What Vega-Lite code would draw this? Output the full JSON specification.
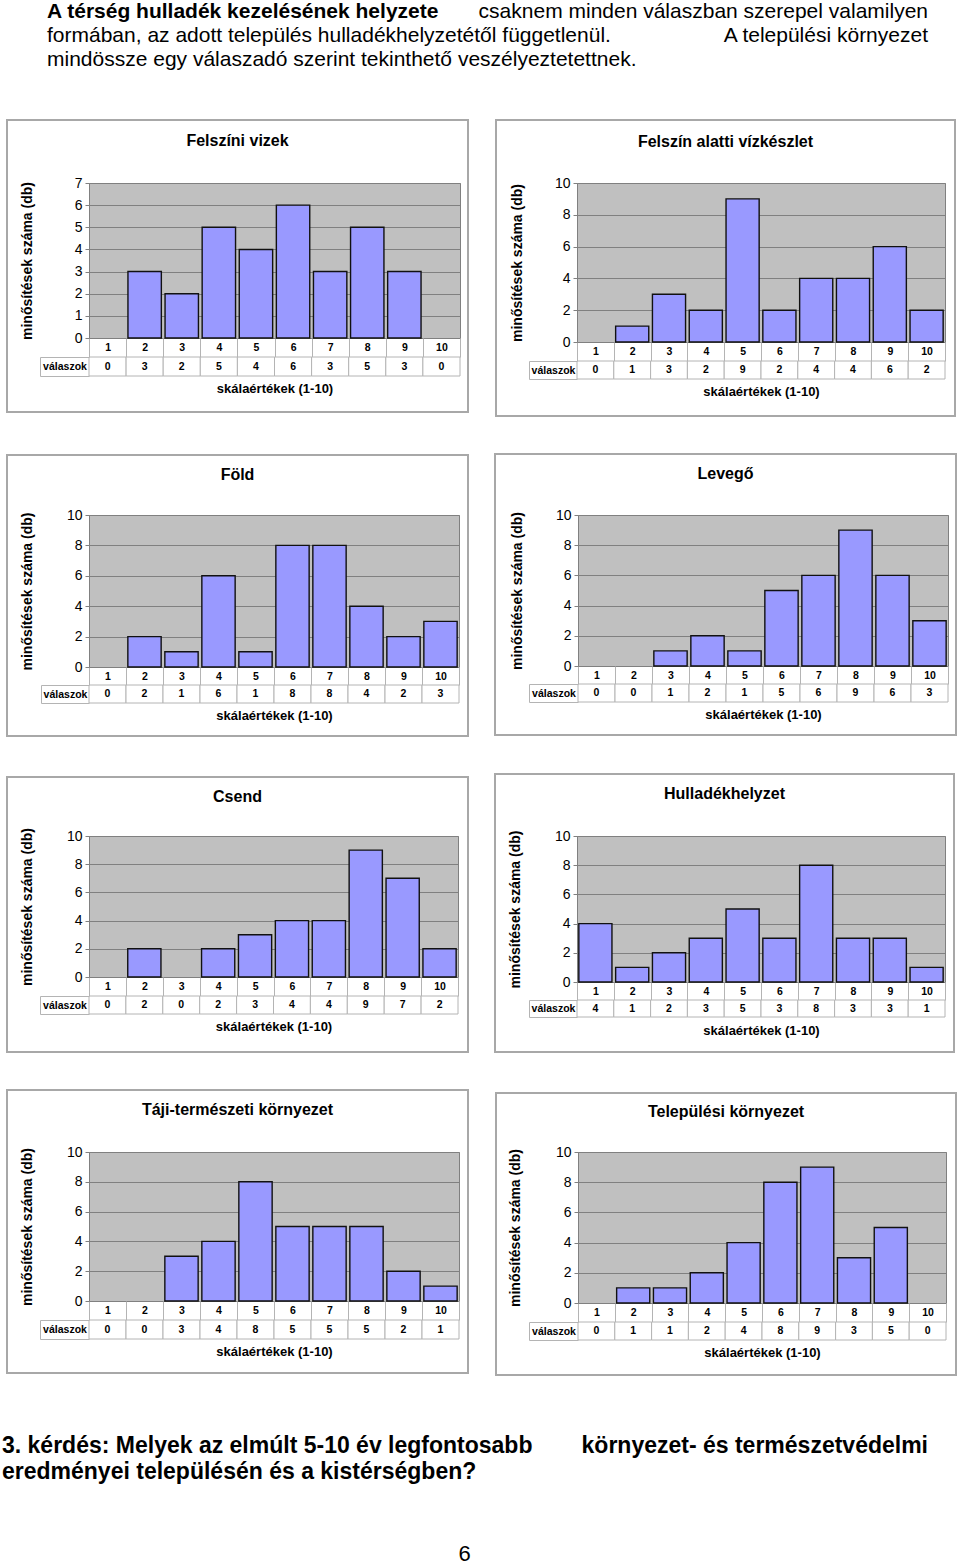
{
  "$schema": "https://vega.github.io/schema/vega-lite/v6.json",
  "background": "white",
  "padding": {"left": 2, "top": 0, "right": 0, "bottom": 0},
  "spacing": 34,
  "datasets": {
    "felszini": [{"skala": 1, "valaszok": 0}, {"skala": 2, "valaszok": 3}, {"skala": 3, "valaszok": 2}, {"skala": 4, "valaszok": 5}, {"skala": 5, "valaszok": 4}, {"skala": 6, "valaszok": 6}, {"skala": 7, "valaszok": 3}, {"skala": 8, "valaszok": 5}, {"skala": 9, "valaszok": 3}, {"skala": 10, "valaszok": 0}],
    "felszin_alatti": [{"skala": 1, "valaszok": 0}, {"skala": 2, "valaszok": 1}, {"skala": 3, "valaszok": 3}, {"skala": 4, "valaszok": 2}, {"skala": 5, "valaszok": 9}, {"skala": 6, "valaszok": 2}, {"skala": 7, "valaszok": 4}, {"skala": 8, "valaszok": 4}, {"skala": 9, "valaszok": 6}, {"skala": 10, "valaszok": 2}],
    "fold": [{"skala": 1, "valaszok": 0}, {"skala": 2, "valaszok": 2}, {"skala": 3, "valaszok": 1}, {"skala": 4, "valaszok": 6}, {"skala": 5, "valaszok": 1}, {"skala": 6, "valaszok": 8}, {"skala": 7, "valaszok": 8}, {"skala": 8, "valaszok": 4}, {"skala": 9, "valaszok": 2}, {"skala": 10, "valaszok": 3}],
    "levego": [{"skala": 1, "valaszok": 0}, {"skala": 2, "valaszok": 0}, {"skala": 3, "valaszok": 1}, {"skala": 4, "valaszok": 2}, {"skala": 5, "valaszok": 1}, {"skala": 6, "valaszok": 5}, {"skala": 7, "valaszok": 6}, {"skala": 8, "valaszok": 9}, {"skala": 9, "valaszok": 6}, {"skala": 10, "valaszok": 3}],
    "csend": [{"skala": 1, "valaszok": 0}, {"skala": 2, "valaszok": 2}, {"skala": 3, "valaszok": 0}, {"skala": 4, "valaszok": 2}, {"skala": 5, "valaszok": 3}, {"skala": 6, "valaszok": 4}, {"skala": 7, "valaszok": 4}, {"skala": 8, "valaszok": 9}, {"skala": 9, "valaszok": 7}, {"skala": 10, "valaszok": 2}],
    "hulladek": [{"skala": 1, "valaszok": 4}, {"skala": 2, "valaszok": 1}, {"skala": 3, "valaszok": 2}, {"skala": 4, "valaszok": 3}, {"skala": 5, "valaszok": 5}, {"skala": 6, "valaszok": 3}, {"skala": 7, "valaszok": 8}, {"skala": 8, "valaszok": 3}, {"skala": 9, "valaszok": 3}, {"skala": 10, "valaszok": 1}],
    "taji": [{"skala": 1, "valaszok": 0}, {"skala": 2, "valaszok": 0}, {"skala": 3, "valaszok": 3}, {"skala": 4, "valaszok": 4}, {"skala": 5, "valaszok": 8}, {"skala": 6, "valaszok": 5}, {"skala": 7, "valaszok": 5}, {"skala": 8, "valaszok": 5}, {"skala": 9, "valaszok": 2}, {"skala": 10, "valaszok": 1}],
    "telepulesi": [{"skala": 1, "valaszok": 0}, {"skala": 2, "valaszok": 1}, {"skala": 3, "valaszok": 1}, {"skala": 4, "valaszok": 2}, {"skala": 5, "valaszok": 4}, {"skala": 6, "valaszok": 8}, {"skala": 7, "valaszok": 9}, {"skala": 8, "valaszok": 3}, {"skala": 9, "valaszok": 5}, {"skala": 10, "valaszok": 0}]
  },
  "vconcat": [
    {
      "width": 839, "height": 84,
      "layer": [
        {
          "data": {"values": [{"line": 1, "text": "A térség hulladék kezelésének helyzete"}]},
          "mark": {"type": "text", "align": "left", "baseline": "middle", "dx": -42, "fontSize": 21, "fontWeight": "bold"},
          "encoding": {"x": {"value": 0}, "y": {"field": "line", "type": "ordinal", "scale": {"type": "band", "domain": [1, 2, 3], "paddingInner": 0, "paddingOuter": 0.25, "align": 0}, "axis": null}, "text": {"field": "text"}}
        },
        {
          "data": {"values": [{"line": 1, "text": "csaknem minden válaszban szerepel valamilyen"}, {"line": 2, "text": "A települési környezet"}]},
          "mark": {"type": "text", "align": "right", "baseline": "middle", "fontSize": 21},
          "encoding": {"x": {"value": "width"}, "y": {"field": "line", "type": "ordinal", "scale": {"type": "band", "domain": [1, 2, 3], "paddingInner": 0, "paddingOuter": 0.25, "align": 0}, "axis": null}, "text": {"field": "text"}}
        },
        {
          "data": {"values": [{"line": 2, "text": "formában, az adott település hulladékhelyzetétől függetlenül."}, {"line": 3, "text": "mindössze egy válaszadó szerint tekinthető veszélyeztetettnek."}]},
          "mark": {"type": "text", "align": "left", "baseline": "middle", "dx": -42, "fontSize": 21},
          "encoding": {"x": {"value": 0}, "y": {"field": "line", "type": "ordinal", "scale": {"type": "band", "domain": [1, 2, 3], "paddingInner": 0, "paddingOuter": 0.25, "align": 0}, "axis": null}, "text": {"field": "text"}}
        }
      ]
    },
    {
      "spacing": 24,
      "hconcat": [
        {
          "spacing": 19, "bounds": "flush",
          "vconcat": [
            {
              "width": 371, "height": 155,
              "view": {"fill": "#c0c0c0", "stroke": "#808080"},
              "title": {"text": "Felszíni vizek", "offset": -30},
              "data": {"name": "felszini"},
              "layer": [
                {"data": {"values": [{}]}, "mark": {"type": "rect", "fill": "white", "fillOpacity": 0, "stroke": "#a8a8a8", "strokeWidth": 2, "xOffset": -82, "x2Offset": 8, "yOffset": -63, "y2Offset": 74}, "encoding": {"x": {"value": 0}, "x2": {"value": "width"}, "y": {"value": 0}, "y2": {"value": "height"}}},
                {"transform": [{"filter": "datum.valaszok > 0"}], "mark": {"type": "bar", "fill": "#9999ff", "stroke": "#111111", "strokeWidth": 1.4, "width": {"band": 0.9}},
                 "encoding": {
                   "x": {"field": "skala", "type": "ordinal", "scale": {"type": "band", "domain": [1, 2, 3, 4, 5, 6, 7, 8, 9, 10], "paddingInner": 0, "paddingOuter": 0}, "axis": {"title": null, "labelAngle": 0, "labelFontSize": 10.5, "labelFontWeight": "bold", "labelBaseline": "middle", "labelPadding": -9.5, "tickBand": "extent", "tickSize": 19, "tickColor": "#b4b4b4", "domain": false, "grid": false}},
                   "y": {"field": "valaszok", "type": "quantitative", "scale": {"domain": [0, 7], "nice": false}, "axis": {"values": [0, 1, 2, 3, 4, 5, 6, 7], "title": "minősítések száma (db)", "titlePadding": 30, "minExtent": 25, "maxExtent": 25}}
                 }}
              ]
            },
            {
              "width": 371, "height": 19,
              "data": {"name": "felszini"},
              "layer": [
                {"mark": {"type": "rect", "fill": "white", "stroke": "#b4b4b4", "strokeWidth": 1},
                 "encoding": {
                   "x": {"field": "skala", "type": "ordinal", "scale": {"type": "band", "domain": [1, 2, 3, 4, 5, 6, 7, 8, 9, 10], "paddingInner": 0, "paddingOuter": 0}, "axis": {"title": "skálaértékek (1-10)", "labels": false, "ticks": false, "domain": false, "grid": false, "titlePadding": 6}},
                   "y": {"datum": "válaszok", "type": "nominal", "scale": {"type": "band", "paddingInner": 0, "paddingOuter": 0}, "axis": {"title": null, "offset": 49, "domainColor": "#b4b4b4", "tickBand": "extent", "tickSize": -49, "tickColor": "#b4b4b4", "labelAlign": "center", "labelBaseline": "middle", "labelPadding": 24.5, "labelFontSize": 10.5, "labelFontWeight": "bold", "grid": false}}
                 }},
                {"mark": {"type": "text", "fontSize": 10.5, "fontWeight": "bold", "baseline": "middle"},
                 "encoding": {
                   "x": {"field": "skala", "type": "ordinal", "scale": {"type": "band", "domain": [1, 2, 3, 4, 5, 6, 7, 8, 9, 10], "paddingInner": 0, "paddingOuter": 0}, "axis": {"title": "skálaértékek (1-10)", "labels": false, "ticks": false, "domain": false, "grid": false, "titlePadding": 6}},
                   "y": {"datum": "válaszok", "type": "nominal", "scale": {"type": "band", "paddingInner": 0, "paddingOuter": 0}, "axis": {"title": null, "offset": 49, "domainColor": "#b4b4b4", "tickBand": "extent", "tickSize": -49, "tickColor": "#b4b4b4", "labelAlign": "center", "labelBaseline": "middle", "labelPadding": 24.5, "labelFontSize": 10.5, "labelFontWeight": "bold", "grid": false}},
                   "text": {"field": "valaszok"}
                 }}
              ]
            }
          ]
        },
        {
          "spacing": 19, "bounds": "flush",
          "vconcat": [
            {
              "width": 368, "height": 159,
              "view": {"fill": "#c0c0c0", "stroke": "#808080"},
              "title": {"text": "Felszín alatti vízkészlet", "offset": -31},
              "data": {"name": "felszin_alatti"},
              "layer": [
                {"data": {"values": [{}]}, "mark": {"type": "rect", "fill": "white", "fillOpacity": 0, "stroke": "#a8a8a8", "strokeWidth": 2, "xOffset": -81, "x2Offset": 10, "yOffset": -63, "y2Offset": 74}, "encoding": {"x": {"value": 0}, "x2": {"value": "width"}, "y": {"value": 0}, "y2": {"value": "height"}}},
                {"transform": [{"filter": "datum.valaszok > 0"}], "mark": {"type": "bar", "fill": "#9999ff", "stroke": "#111111", "strokeWidth": 1.4, "width": {"band": 0.9}},
                 "encoding": {
                   "x": {"field": "skala", "type": "ordinal", "scale": {"type": "band", "domain": [1, 2, 3, 4, 5, 6, 7, 8, 9, 10], "paddingInner": 0, "paddingOuter": 0}, "axis": {"title": null, "labelAngle": 0, "labelFontSize": 10.5, "labelFontWeight": "bold", "labelBaseline": "middle", "labelPadding": -9.5, "tickBand": "extent", "tickSize": 19, "tickColor": "#b4b4b4", "domain": false, "grid": false}},
                   "y": {"field": "valaszok", "type": "quantitative", "scale": {"domain": [0, 10], "nice": false}, "axis": {"values": [0, 2, 4, 6, 8, 10], "title": "minősítések száma (db)", "titlePadding": 28, "minExtent": 25, "maxExtent": 25}}
                 }}
              ]
            },
            {
              "width": 368, "height": 18,
              "data": {"name": "felszin_alatti"},
              "layer": [
                {"mark": {"type": "rect", "fill": "white", "stroke": "#b4b4b4", "strokeWidth": 1},
                 "encoding": {
                   "x": {"field": "skala", "type": "ordinal", "scale": {"type": "band", "domain": [1, 2, 3, 4, 5, 6, 7, 8, 9, 10], "paddingInner": 0, "paddingOuter": 0}, "axis": {"title": "skálaértékek (1-10)", "labels": false, "ticks": false, "domain": false, "grid": false, "titlePadding": 6}},
                   "y": {"datum": "válaszok", "type": "nominal", "scale": {"type": "band", "paddingInner": 0, "paddingOuter": 0}, "axis": {"title": null, "offset": 48, "domainColor": "#b4b4b4", "tickBand": "extent", "tickSize": -48, "tickColor": "#b4b4b4", "labelAlign": "center", "labelBaseline": "middle", "labelPadding": 24, "labelFontSize": 10.5, "labelFontWeight": "bold", "grid": false}}
                 }},
                {"mark": {"type": "text", "fontSize": 10.5, "fontWeight": "bold", "baseline": "middle"},
                 "encoding": {
                   "x": {"field": "skala", "type": "ordinal", "scale": {"type": "band", "domain": [1, 2, 3, 4, 5, 6, 7, 8, 9, 10], "paddingInner": 0, "paddingOuter": 0}, "axis": {"title": "skálaértékek (1-10)", "labels": false, "ticks": false, "domain": false, "grid": false, "titlePadding": 6}},
                   "y": {"datum": "válaszok", "type": "nominal", "scale": {"type": "band", "paddingInner": 0, "paddingOuter": 0}, "axis": {"title": null, "offset": 48, "domainColor": "#b4b4b4", "tickBand": "extent", "tickSize": -48, "tickColor": "#b4b4b4", "labelAlign": "center", "labelBaseline": "middle", "labelPadding": 24, "labelFontSize": 10.5, "labelFontWeight": "bold", "grid": false}},
                   "text": {"field": "valaszok"}
                 }}
              ]
            }
          ]
        }
      ]
    },
    {
      "spacing": 23,
      "hconcat": [
        {
          "spacing": 18, "bounds": "flush",
          "vconcat": [
            {
              "width": 370, "height": 152,
              "view": {"fill": "#c0c0c0", "stroke": "#808080"},
              "title": {"text": "Föld", "offset": -29},
              "data": {"name": "fold"},
              "layer": [
                {"data": {"values": [{}]}, "mark": {"type": "rect", "fill": "white", "fillOpacity": 0, "stroke": "#a8a8a8", "strokeWidth": 2, "xOffset": -82, "x2Offset": 9, "yOffset": -60, "y2Offset": 69}, "encoding": {"x": {"value": 0}, "x2": {"value": "width"}, "y": {"value": 0}, "y2": {"value": "height"}}},
                {"transform": [{"filter": "datum.valaszok > 0"}], "mark": {"type": "bar", "fill": "#9999ff", "stroke": "#111111", "strokeWidth": 1.4, "width": {"band": 0.9}},
                 "encoding": {
                   "x": {"field": "skala", "type": "ordinal", "scale": {"type": "band", "domain": [1, 2, 3, 4, 5, 6, 7, 8, 9, 10], "paddingInner": 0, "paddingOuter": 0}, "axis": {"title": null, "labelAngle": 0, "labelFontSize": 10.5, "labelFontWeight": "bold", "labelBaseline": "middle", "labelPadding": -9, "tickBand": "extent", "tickSize": 18, "tickColor": "#b4b4b4", "domain": false, "grid": false}},
                   "y": {"field": "valaszok", "type": "quantitative", "scale": {"domain": [0, 10], "nice": false}, "axis": {"values": [0, 2, 4, 6, 8, 10], "title": "minősítések száma (db)", "titlePadding": 30, "minExtent": 25, "maxExtent": 25}}
                 }}
              ]
            },
            {
              "width": 370, "height": 18,
              "data": {"name": "fold"},
              "layer": [
                {"mark": {"type": "rect", "fill": "white", "stroke": "#b4b4b4", "strokeWidth": 1},
                 "encoding": {
                   "x": {"field": "skala", "type": "ordinal", "scale": {"type": "band", "domain": [1, 2, 3, 4, 5, 6, 7, 8, 9, 10], "paddingInner": 0, "paddingOuter": 0}, "axis": {"title": "skálaértékek (1-10)", "labels": false, "ticks": false, "domain": false, "grid": false, "titlePadding": 6}},
                   "y": {"datum": "válaszok", "type": "nominal", "scale": {"type": "band", "paddingInner": 0, "paddingOuter": 0}, "axis": {"title": null, "offset": 48, "domainColor": "#b4b4b4", "tickBand": "extent", "tickSize": -48, "tickColor": "#b4b4b4", "labelAlign": "center", "labelBaseline": "middle", "labelPadding": 24, "labelFontSize": 10.5, "labelFontWeight": "bold", "grid": false}}
                 }},
                {"mark": {"type": "text", "fontSize": 10.5, "fontWeight": "bold", "baseline": "middle"},
                 "encoding": {
                   "x": {"field": "skala", "type": "ordinal", "scale": {"type": "band", "domain": [1, 2, 3, 4, 5, 6, 7, 8, 9, 10], "paddingInner": 0, "paddingOuter": 0}, "axis": {"title": "skálaértékek (1-10)", "labels": false, "ticks": false, "domain": false, "grid": false, "titlePadding": 6}},
                   "y": {"datum": "válaszok", "type": "nominal", "scale": {"type": "band", "paddingInner": 0, "paddingOuter": 0}, "axis": {"title": null, "offset": 48, "domainColor": "#b4b4b4", "tickBand": "extent", "tickSize": -48, "tickColor": "#b4b4b4", "labelAlign": "center", "labelBaseline": "middle", "labelPadding": 24, "labelFontSize": 10.5, "labelFontWeight": "bold", "grid": false}},
                   "text": {"field": "valaszok"}
                 }}
              ]
            }
          ]
        },
        {
          "spacing": 18, "bounds": "flush",
          "vconcat": [
            {
              "width": 370, "height": 151,
              "view": {"fill": "#c0c0c0", "stroke": "#808080"},
              "title": {"text": "Levegő", "offset": -29},
              "data": {"name": "levego"},
              "layer": [
                {"data": {"values": [{}]}, "mark": {"type": "rect", "fill": "white", "fillOpacity": 0, "stroke": "#a8a8a8", "strokeWidth": 2, "xOffset": -83, "x2Offset": 8, "yOffset": -61, "y2Offset": 69}, "encoding": {"x": {"value": 0}, "x2": {"value": "width"}, "y": {"value": 0}, "y2": {"value": "height"}}},
                {"transform": [{"filter": "datum.valaszok > 0"}], "mark": {"type": "bar", "fill": "#9999ff", "stroke": "#111111", "strokeWidth": 1.4, "width": {"band": 0.9}},
                 "encoding": {
                   "x": {"field": "skala", "type": "ordinal", "scale": {"type": "band", "domain": [1, 2, 3, 4, 5, 6, 7, 8, 9, 10], "paddingInner": 0, "paddingOuter": 0}, "axis": {"title": null, "labelAngle": 0, "labelFontSize": 10.5, "labelFontWeight": "bold", "labelBaseline": "middle", "labelPadding": -9, "tickBand": "extent", "tickSize": 18, "tickColor": "#b4b4b4", "domain": false, "grid": false}},
                   "y": {"field": "valaszok", "type": "quantitative", "scale": {"domain": [0, 10], "nice": false}, "axis": {"values": [0, 2, 4, 6, 8, 10], "title": "minősítések száma (db)", "titlePadding": 29, "minExtent": 25, "maxExtent": 25}}
                 }}
              ]
            },
            {
              "width": 370, "height": 18,
              "data": {"name": "levego"},
              "layer": [
                {"mark": {"type": "rect", "fill": "white", "stroke": "#b4b4b4", "strokeWidth": 1},
                 "encoding": {
                   "x": {"field": "skala", "type": "ordinal", "scale": {"type": "band", "domain": [1, 2, 3, 4, 5, 6, 7, 8, 9, 10], "paddingInner": 0, "paddingOuter": 0}, "axis": {"title": "skálaértékek (1-10)", "labels": false, "ticks": false, "domain": false, "grid": false, "titlePadding": 6}},
                   "y": {"datum": "válaszok", "type": "nominal", "scale": {"type": "band", "paddingInner": 0, "paddingOuter": 0}, "axis": {"title": null, "offset": 49, "domainColor": "#b4b4b4", "tickBand": "extent", "tickSize": -49, "tickColor": "#b4b4b4", "labelAlign": "center", "labelBaseline": "middle", "labelPadding": 24.5, "labelFontSize": 10.5, "labelFontWeight": "bold", "grid": false}}
                 }},
                {"mark": {"type": "text", "fontSize": 10.5, "fontWeight": "bold", "baseline": "middle"},
                 "encoding": {
                   "x": {"field": "skala", "type": "ordinal", "scale": {"type": "band", "domain": [1, 2, 3, 4, 5, 6, 7, 8, 9, 10], "paddingInner": 0, "paddingOuter": 0}, "axis": {"title": "skálaértékek (1-10)", "labels": false, "ticks": false, "domain": false, "grid": false, "titlePadding": 6}},
                   "y": {"datum": "válaszok", "type": "nominal", "scale": {"type": "band", "paddingInner": 0, "paddingOuter": 0}, "axis": {"title": null, "offset": 49, "domainColor": "#b4b4b4", "tickBand": "extent", "tickSize": -49, "tickColor": "#b4b4b4", "labelAlign": "center", "labelBaseline": "middle", "labelPadding": 24.5, "labelFontSize": 10.5, "labelFontWeight": "bold", "grid": false}},
                   "text": {"field": "valaszok"}
                 }}
              ]
            }
          ]
        }
      ]
    },
    {
      "spacing": 23,
      "hconcat": [
        {
          "spacing": 19, "bounds": "flush",
          "vconcat": [
            {
              "width": 369, "height": 141,
              "view": {"fill": "#c0c0c0", "stroke": "#808080"},
              "title": {"text": "Csend", "offset": -29},
              "data": {"name": "csend"},
              "layer": [
                {"data": {"values": [{}]}, "mark": {"type": "rect", "fill": "white", "fillOpacity": 0, "stroke": "#a8a8a8", "strokeWidth": 2, "xOffset": -82, "x2Offset": 10, "yOffset": -59, "y2Offset": 75}, "encoding": {"x": {"value": 0}, "x2": {"value": "width"}, "y": {"value": 0}, "y2": {"value": "height"}}},
                {"transform": [{"filter": "datum.valaszok > 0"}], "mark": {"type": "bar", "fill": "#9999ff", "stroke": "#111111", "strokeWidth": 1.4, "width": {"band": 0.9}},
                 "encoding": {
                   "x": {"field": "skala", "type": "ordinal", "scale": {"type": "band", "domain": [1, 2, 3, 4, 5, 6, 7, 8, 9, 10], "paddingInner": 0, "paddingOuter": 0}, "axis": {"title": null, "labelAngle": 0, "labelFontSize": 10.5, "labelFontWeight": "bold", "labelBaseline": "middle", "labelPadding": -9.5, "tickBand": "extent", "tickSize": 19, "tickColor": "#b4b4b4", "domain": false, "grid": false}},
                   "y": {"field": "valaszok", "type": "quantitative", "scale": {"domain": [0, 10], "nice": false}, "axis": {"values": [0, 2, 4, 6, 8, 10], "title": "minősítések száma (db)", "titlePadding": 30, "minExtent": 25, "maxExtent": 25}}
                 }}
              ]
            },
            {
              "width": 369, "height": 18,
              "data": {"name": "csend"},
              "layer": [
                {"mark": {"type": "rect", "fill": "white", "stroke": "#b4b4b4", "strokeWidth": 1},
                 "encoding": {
                   "x": {"field": "skala", "type": "ordinal", "scale": {"type": "band", "domain": [1, 2, 3, 4, 5, 6, 7, 8, 9, 10], "paddingInner": 0, "paddingOuter": 0}, "axis": {"title": "skálaértékek (1-10)", "labels": false, "ticks": false, "domain": false, "grid": false, "titlePadding": 6}},
                   "y": {"datum": "válaszok", "type": "nominal", "scale": {"type": "band", "paddingInner": 0, "paddingOuter": 0}, "axis": {"title": null, "offset": 49, "domainColor": "#b4b4b4", "tickBand": "extent", "tickSize": -49, "tickColor": "#b4b4b4", "labelAlign": "center", "labelBaseline": "middle", "labelPadding": 24.5, "labelFontSize": 10.5, "labelFontWeight": "bold", "grid": false}}
                 }},
                {"mark": {"type": "text", "fontSize": 10.5, "fontWeight": "bold", "baseline": "middle"},
                 "encoding": {
                   "x": {"field": "skala", "type": "ordinal", "scale": {"type": "band", "domain": [1, 2, 3, 4, 5, 6, 7, 8, 9, 10], "paddingInner": 0, "paddingOuter": 0}, "axis": {"title": "skálaértékek (1-10)", "labels": false, "ticks": false, "domain": false, "grid": false, "titlePadding": 6}},
                   "y": {"datum": "válaszok", "type": "nominal", "scale": {"type": "band", "paddingInner": 0, "paddingOuter": 0}, "axis": {"title": null, "offset": 49, "domainColor": "#b4b4b4", "tickBand": "extent", "tickSize": -49, "tickColor": "#b4b4b4", "labelAlign": "center", "labelBaseline": "middle", "labelPadding": 24.5, "labelFontSize": 10.5, "labelFontWeight": "bold", "grid": false}},
                   "text": {"field": "valaszok"}
                 }}
              ]
            }
          ]
        },
        {
          "spacing": 18, "bounds": "flush",
          "vconcat": [
            {
              "width": 368, "height": 146,
              "view": {"fill": "#c0c0c0", "stroke": "#808080"},
              "title": {"text": "Hulladékhelyzet", "offset": -29},
              "data": {"name": "hulladek"},
              "layer": [
                {"data": {"values": [{}]}, "mark": {"type": "rect", "fill": "white", "fillOpacity": 0, "stroke": "#a8a8a8", "strokeWidth": 2, "xOffset": -82, "x2Offset": 9, "yOffset": -62, "y2Offset": 70}, "encoding": {"x": {"value": 0}, "x2": {"value": "width"}, "y": {"value": 0}, "y2": {"value": "height"}}},
                {"transform": [{"filter": "datum.valaszok > 0"}], "mark": {"type": "bar", "fill": "#9999ff", "stroke": "#111111", "strokeWidth": 1.4, "width": {"band": 0.9}},
                 "encoding": {
                   "x": {"field": "skala", "type": "ordinal", "scale": {"type": "band", "domain": [1, 2, 3, 4, 5, 6, 7, 8, 9, 10], "paddingInner": 0, "paddingOuter": 0}, "axis": {"title": null, "labelAngle": 0, "labelFontSize": 10.5, "labelFontWeight": "bold", "labelBaseline": "middle", "labelPadding": -9, "tickBand": "extent", "tickSize": 18, "tickColor": "#b4b4b4", "domain": false, "grid": false}},
                   "y": {"field": "valaszok", "type": "quantitative", "scale": {"domain": [0, 10], "nice": false}, "axis": {"values": [0, 2, 4, 6, 8, 10], "title": "minősítések száma (db)", "titlePadding": 30, "minExtent": 25, "maxExtent": 25}}
                 }}
              ]
            },
            {
              "width": 368, "height": 17,
              "data": {"name": "hulladek"},
              "layer": [
                {"mark": {"type": "rect", "fill": "white", "stroke": "#b4b4b4", "strokeWidth": 1},
                 "encoding": {
                   "x": {"field": "skala", "type": "ordinal", "scale": {"type": "band", "domain": [1, 2, 3, 4, 5, 6, 7, 8, 9, 10], "paddingInner": 0, "paddingOuter": 0}, "axis": {"title": "skálaértékek (1-10)", "labels": false, "ticks": false, "domain": false, "grid": false, "titlePadding": 7}},
                   "y": {"datum": "válaszok", "type": "nominal", "scale": {"type": "band", "paddingInner": 0, "paddingOuter": 0}, "axis": {"title": null, "offset": 48, "domainColor": "#b4b4b4", "tickBand": "extent", "tickSize": -48, "tickColor": "#b4b4b4", "labelAlign": "center", "labelBaseline": "middle", "labelPadding": 24, "labelFontSize": 10.5, "labelFontWeight": "bold", "grid": false}}
                 }},
                {"mark": {"type": "text", "fontSize": 10.5, "fontWeight": "bold", "baseline": "middle"},
                 "encoding": {
                   "x": {"field": "skala", "type": "ordinal", "scale": {"type": "band", "domain": [1, 2, 3, 4, 5, 6, 7, 8, 9, 10], "paddingInner": 0, "paddingOuter": 0}, "axis": {"title": "skálaértékek (1-10)", "labels": false, "ticks": false, "domain": false, "grid": false, "titlePadding": 7}},
                   "y": {"datum": "válaszok", "type": "nominal", "scale": {"type": "band", "paddingInner": 0, "paddingOuter": 0}, "axis": {"title": null, "offset": 48, "domainColor": "#b4b4b4", "tickBand": "extent", "tickSize": -48, "tickColor": "#b4b4b4", "labelAlign": "center", "labelBaseline": "middle", "labelPadding": 24, "labelFontSize": 10.5, "labelFontWeight": "bold", "grid": false}},
                   "text": {"field": "valaszok"}
                 }}
              ]
            }
          ]
        }
      ]
    },
    {
      "spacing": 24,
      "hconcat": [
        {
          "spacing": 19, "bounds": "flush",
          "vconcat": [
            {
              "width": 370, "height": 149,
              "view": {"fill": "#c0c0c0", "stroke": "#808080"},
              "title": {"text": "Táji-természeti környezet", "offset": -29},
              "data": {"name": "taji"},
              "layer": [
                {"data": {"values": [{}]}, "mark": {"type": "rect", "fill": "white", "fillOpacity": 0, "stroke": "#a8a8a8", "strokeWidth": 2, "xOffset": -82, "x2Offset": 9, "yOffset": -62, "y2Offset": 72}, "encoding": {"x": {"value": 0}, "x2": {"value": "width"}, "y": {"value": 0}, "y2": {"value": "height"}}},
                {"transform": [{"filter": "datum.valaszok > 0"}], "mark": {"type": "bar", "fill": "#9999ff", "stroke": "#111111", "strokeWidth": 1.4, "width": {"band": 0.9}},
                 "encoding": {
                   "x": {"field": "skala", "type": "ordinal", "scale": {"type": "band", "domain": [1, 2, 3, 4, 5, 6, 7, 8, 9, 10], "paddingInner": 0, "paddingOuter": 0}, "axis": {"title": null, "labelAngle": 0, "labelFontSize": 10.5, "labelFontWeight": "bold", "labelBaseline": "middle", "labelPadding": -9.5, "tickBand": "extent", "tickSize": 19, "tickColor": "#b4b4b4", "domain": false, "grid": false}},
                   "y": {"field": "valaszok", "type": "quantitative", "scale": {"domain": [0, 10], "nice": false}, "axis": {"values": [0, 2, 4, 6, 8, 10], "title": "minősítések száma (db)", "titlePadding": 30, "minExtent": 25, "maxExtent": 25}}
                 }}
              ]
            },
            {
              "width": 370, "height": 19,
              "data": {"name": "taji"},
              "layer": [
                {"mark": {"type": "rect", "fill": "white", "stroke": "#b4b4b4", "strokeWidth": 1},
                 "encoding": {
                   "x": {"field": "skala", "type": "ordinal", "scale": {"type": "band", "domain": [1, 2, 3, 4, 5, 6, 7, 8, 9, 10], "paddingInner": 0, "paddingOuter": 0}, "axis": {"title": "skálaértékek (1-10)", "labels": false, "ticks": false, "domain": false, "grid": false, "titlePadding": 6}},
                   "y": {"datum": "válaszok", "type": "nominal", "scale": {"type": "band", "paddingInner": 0, "paddingOuter": 0}, "axis": {"title": null, "offset": 49, "domainColor": "#b4b4b4", "tickBand": "extent", "tickSize": -49, "tickColor": "#b4b4b4", "labelAlign": "center", "labelBaseline": "middle", "labelPadding": 24.5, "labelFontSize": 10.5, "labelFontWeight": "bold", "grid": false}}
                 }},
                {"mark": {"type": "text", "fontSize": 10.5, "fontWeight": "bold", "baseline": "middle"},
                 "encoding": {
                   "x": {"field": "skala", "type": "ordinal", "scale": {"type": "band", "domain": [1, 2, 3, 4, 5, 6, 7, 8, 9, 10], "paddingInner": 0, "paddingOuter": 0}, "axis": {"title": "skálaértékek (1-10)", "labels": false, "ticks": false, "domain": false, "grid": false, "titlePadding": 6}},
                   "y": {"datum": "válaszok", "type": "nominal", "scale": {"type": "band", "paddingInner": 0, "paddingOuter": 0}, "axis": {"title": null, "offset": 49, "domainColor": "#b4b4b4", "tickBand": "extent", "tickSize": -49, "tickColor": "#b4b4b4", "labelAlign": "center", "labelBaseline": "middle", "labelPadding": 24.5, "labelFontSize": 10.5, "labelFontWeight": "bold", "grid": false}},
                   "text": {"field": "valaszok"}
                 }}
              ]
            }
          ]
        },
        {
          "spacing": 19, "bounds": "flush",
          "vconcat": [
            {
              "width": 368, "height": 151,
              "view": {"fill": "#c0c0c0", "stroke": "#808080"},
              "title": {"text": "Települési környezet", "offset": -28},
              "data": {"name": "telepulesi"},
              "layer": [
                {"data": {"values": [{}]}, "mark": {"type": "rect", "fill": "white", "fillOpacity": 0, "stroke": "#a8a8a8", "strokeWidth": 2, "xOffset": -82, "x2Offset": 10, "yOffset": -59, "y2Offset": 72}, "encoding": {"x": {"value": 0}, "x2": {"value": "width"}, "y": {"value": 0}, "y2": {"value": "height"}}},
                {"transform": [{"filter": "datum.valaszok > 0"}], "mark": {"type": "bar", "fill": "#9999ff", "stroke": "#111111", "strokeWidth": 1.4, "width": {"band": 0.9}},
                 "encoding": {
                   "x": {"field": "skala", "type": "ordinal", "scale": {"type": "band", "domain": [1, 2, 3, 4, 5, 6, 7, 8, 9, 10], "paddingInner": 0, "paddingOuter": 0}, "axis": {"title": null, "labelAngle": 0, "labelFontSize": 10.5, "labelFontWeight": "bold", "labelBaseline": "middle", "labelPadding": -9.5, "tickBand": "extent", "tickSize": 19, "tickColor": "#b4b4b4", "domain": false, "grid": false}},
                   "y": {"field": "valaszok", "type": "quantitative", "scale": {"domain": [0, 10], "nice": false}, "axis": {"values": [0, 2, 4, 6, 8, 10], "title": "minősítések száma (db)", "titlePadding": 31, "minExtent": 25, "maxExtent": 25}}
                 }}
              ]
            },
            {
              "width": 368, "height": 18,
              "data": {"name": "telepulesi"},
              "layer": [
                {"mark": {"type": "rect", "fill": "white", "stroke": "#b4b4b4", "strokeWidth": 1},
                 "encoding": {
                   "x": {"field": "skala", "type": "ordinal", "scale": {"type": "band", "domain": [1, 2, 3, 4, 5, 6, 7, 8, 9, 10], "paddingInner": 0, "paddingOuter": 0}, "axis": {"title": "skálaértékek (1-10)", "labels": false, "ticks": false, "domain": false, "grid": false, "titlePadding": 6}},
                   "y": {"datum": "válaszok", "type": "nominal", "scale": {"type": "band", "paddingInner": 0, "paddingOuter": 0}, "axis": {"title": null, "offset": 49, "domainColor": "#b4b4b4", "tickBand": "extent", "tickSize": -49, "tickColor": "#b4b4b4", "labelAlign": "center", "labelBaseline": "middle", "labelPadding": 24.5, "labelFontSize": 10.5, "labelFontWeight": "bold", "grid": false}}
                 }},
                {"mark": {"type": "text", "fontSize": 10.5, "fontWeight": "bold", "baseline": "middle"},
                 "encoding": {
                   "x": {"field": "skala", "type": "ordinal", "scale": {"type": "band", "domain": [1, 2, 3, 4, 5, 6, 7, 8, 9, 10], "paddingInner": 0, "paddingOuter": 0}, "axis": {"title": "skálaértékek (1-10)", "labels": false, "ticks": false, "domain": false, "grid": false, "titlePadding": 6}},
                   "y": {"datum": "válaszok", "type": "nominal", "scale": {"type": "band", "paddingInner": 0, "paddingOuter": 0}, "axis": {"title": null, "offset": 49, "domainColor": "#b4b4b4", "tickBand": "extent", "tickSize": -49, "tickColor": "#b4b4b4", "labelAlign": "center", "labelBaseline": "middle", "labelPadding": 24.5, "labelFontSize": 10.5, "labelFontWeight": "bold", "grid": false}},
                   "text": {"field": "valaszok"}
                 }}
              ]
            }
          ]
        }
      ]
    },
    {
      "width": 839, "height": 96,
      "layer": [
        {
          "data": {"values": [{"line": 1, "text": "3. kérdés: Melyek az elmúlt 5-10 év legfontosabb"}, {"line": 2, "text": "eredményei településén és a kistérségben?"}]},
          "mark": {"type": "text", "align": "left", "baseline": "middle", "dx": -87, "fontSize": 23, "fontWeight": "bold"},
          "encoding": {"x": {"value": 0}, "y": {"field": "line", "type": "ordinal", "scale": {"type": "band", "domain": [1, 2], "paddingInner": 0, "paddingOuter": 0.846}, "axis": null}, "text": {"field": "text"}}
        },
        {
          "data": {"values": [{"line": 1, "text": "környezet- és természetvédelmi"}]},
          "mark": {"type": "text", "align": "right", "baseline": "middle", "fontSize": 23, "fontWeight": "bold"},
          "encoding": {"x": {"value": "width"}, "y": {"field": "line", "type": "ordinal", "scale": {"type": "band", "domain": [1, 2], "paddingInner": 0, "paddingOuter": 0.846}, "axis": null}, "text": {"field": "text"}}
        }
      ]
    },
    {
      "width": 839, "height": 22,
      "data": {"values": [{"page": "6"}]},
      "mark": {"type": "text", "fontSize": 22, "baseline": "middle", "dx": -44, "dy": 2},
      "encoding": {"text": {"field": "page"}}
    }
  ],
  "config": {
    "font": "Liberation Sans, Arial, Helvetica, sans-serif",
    "view": {"stroke": null},
    "text": {"color": "#000000", "font": "Liberation Sans, Arial, Helvetica, sans-serif"},
    "title": {"fontSize": 16, "fontWeight": "bold", "color": "#000000", "anchor": "middle", "frame": "bounds", "baseline": "middle", "font": "Liberation Sans, Arial, Helvetica, sans-serif"},
    "axis": {
      "labelFont": "Liberation Sans, Arial, Helvetica, sans-serif",
      "titleFont": "Liberation Sans, Arial, Helvetica, sans-serif",
      "labelColor": "#000000",
      "titleColor": "#000000",
      "labelFontSize": 13,
      "titleFontSize": 13,
      "titleFontWeight": "bold"
    },
    "axisY": {
      "titleFontSize": 14,
      "labelFontSize": 14,
      "labelPadding": 3,
      "tickSize": 4,
      "tickColor": "#808080",
      "domainColor": "#808080",
      "gridColor": "#808080",
      "gridOpacity": 1
    }
  }
}
